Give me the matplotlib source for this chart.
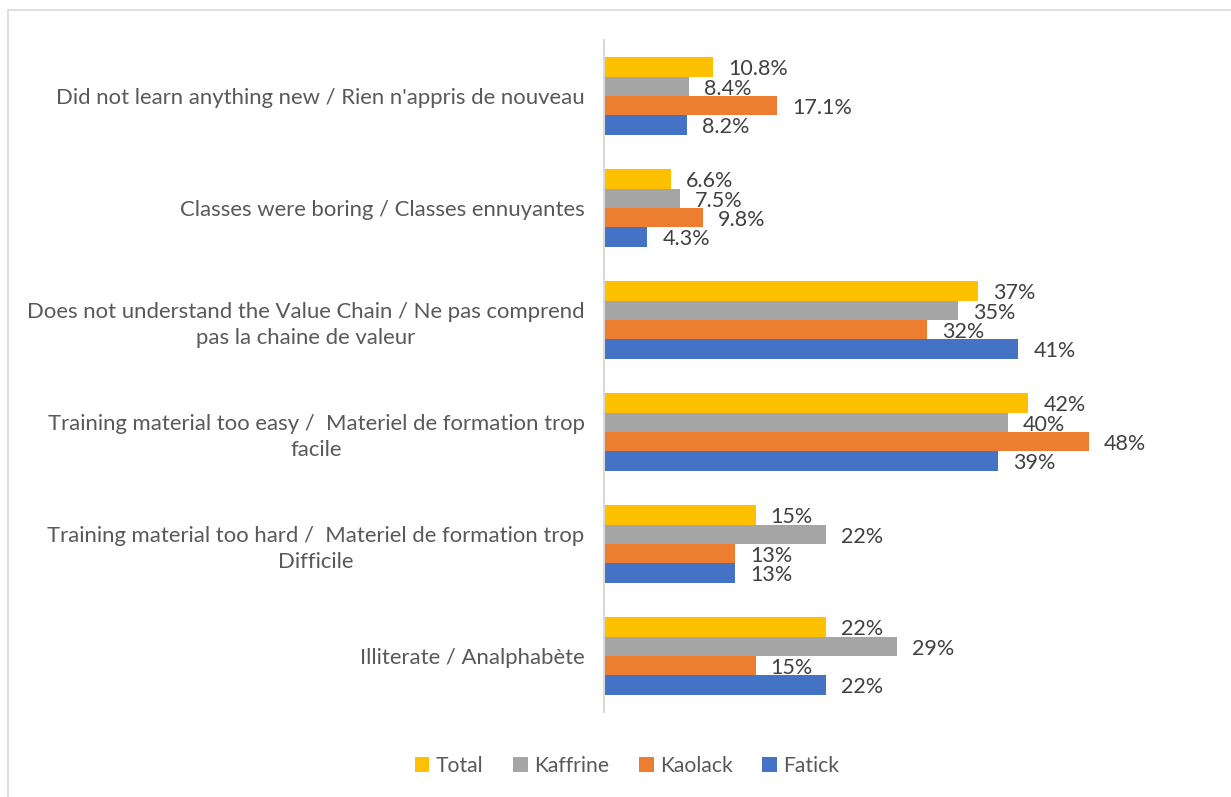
import numpy as np
import matplotlib.pyplot as plt
from matplotlib.patches import Rectangle

plt.rcParams['font.family'] = ['Lato', 'DejaVu Sans']

#%% data
reasons = ["Did not learn anything new / Rien n'appris de nouveau",
           "Classes were boring / Classes ennuyantes",
           "Does not understand the Value Chain / Ne pas comprend\npas la chaine de valeur",
           "Training material too easy /  Materiel de formation trop\nfacile",
           "Training material too hard /  Materiel de formation trop\nDifficile",
           "Illiterate / Analphabète"]
series = ['Total', 'Kaffrine', 'Kaolack', 'Fatick']
total = [10.8, 6.6, 37, 42, 15, 22]
kaffrine = [8.4, 7.5, 35, 40, 22, 29]
kaolack = [17.1, 9.8, 32, 48, 13, 15]
fatick = [8.2, 4.3, 41, 39, 13, 22]
colors = ['#FFC000', '#A5A5A5', '#ED7D31', '#4472C4']

#%% plot
W, H = 1231, 797
fig = plt.figure(figsize=(W/100, H/100), dpi=100)
ax = fig.add_axes([604/W, 1-712/H, (1210-604)/W, (712-40)/H])

# chart area border
fig.patches.append(Rectangle((8/W, -0.1), 1.2, 1-10/H+0.1, transform=fig.transFigure,
                             fill=False, edgecolor='#D9D9D9', linewidth=1.2))

y = np.arange(len(reasons))
h = 0.172
for k, (name, vals, c) in enumerate(zip(series, [total, kaffrine, kaolack, fatick], colors)):
    pos = y + (k - 1.5)*h
    ax.barh(pos, vals, height=h, color=c, label=name)
    for p, v in zip(pos, vals):
        txt = '%d%%' % v if float(v).is_integer() else '%.1f%%' % v
        ax.text(v + 1.5, p + 0.02, txt, va='center', ha='left', fontsize=15.5, color='#404040')

ax.set_xlim(0, 60)
ax.set_ylim(len(reasons) - 0.5, -0.5)
ax.set_yticks(y)
ax.set_yticklabels(reasons, fontsize=15.9, color='#595959', multialignment='center',
                   linespacing=1.4)
ax.tick_params(axis='y', length=0, pad=14)
ax.set_xticks([])
for s in ['top', 'right', 'bottom']:
    ax.spines[s].set_visible(False)
ax.spines['left'].set_color('#D9D9D9')
ax.spines['left'].set_linewidth(1.5)

leg = fig.legend(loc='center', bbox_to_anchor=(627/W, 1-766/H), ncol=4, frameon=False,
                 fontsize=15.2, handlelength=0.7, handleheight=0.7, handletextpad=0.3,
                 columnspacing=1.4)
for t in leg.get_texts():
    t.set_color('#595959')

plt.savefig('out.png', dpi=100)
